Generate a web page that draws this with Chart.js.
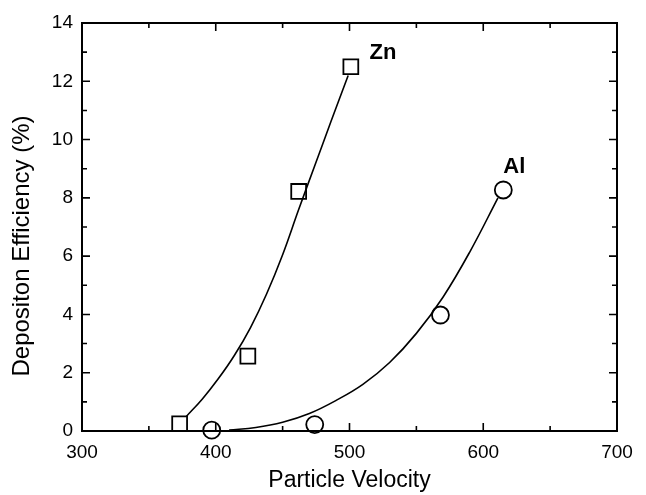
<!DOCTYPE html>
<html>
<head>
<meta charset="utf-8">
<script src="https://cdn.jsdelivr.net/npm/chart.js@4/dist/chart.umd.min.js"></script>
<style>
  html, body { margin: 0; padding: 0; background: #fff; }
  #wrap { width: 646px; height: 495px; }
</style>
</head>
<body>
<div id="wrap"><canvas id="chart" width="646" height="495"></canvas></div>
<script>
// measured points
const znVelocity = [373, 424, 462, 501];
const znEfficiency = [0.25, 2.57, 8.22, 12.5];
const alVelocity = [397, 474, 568, 615];
const alEfficiency = [0.03, 0.22, 3.98, 8.27];

// fitted curves
const znFitX = [378, 390, 402, 414, 426, 438, 450, 462, 474, 486, 499];
const znFitY = [0.5, 1.1, 1.8, 2.6, 3.55, 4.7, 6.05, 7.6, 9.1, 10.6, 12.2];
const alFitX = [410, 430, 450, 470, 490, 510, 530, 550, 570, 590, 611];
const alFitY = [0.03, 0.12, 0.3, 0.6, 1.05, 1.6, 2.35, 3.35, 4.6, 6.15, 8.0];

const xTicks = [300, 400, 500, 600, 700];
const yTicks = [0, 2, 4, 6, 8, 10, 12, 14];
const seriesLabels = ['Zn', 'Al'];
const labelPos = [[515, 12.97], [615, 9.06]];
const yTitle = 'Depositon Efficiency (%)';

const FONT = '"Liberation Sans", Arial, Helvetica, sans-serif';

function pts(xs, ys) {
  return xs.map((x, i) => ({ x: x, y: ys[i] }));
}

// inward ticks on all four sides, frame, y title and the series labels
const framePlugin = {
  id: 'frame',
  afterDraw(chart) {
    const c = chart.ctx;
    const a = chart.chartArea;
    const xs = chart.scales.x, ys = chart.scales.y;
    c.save();
    c.strokeStyle = '#000';
    c.lineWidth = 2;
    c.strokeRect(a.left, a.top, a.right - a.left, a.bottom - a.top);
    c.lineWidth = 1.6;
    c.beginPath();
    for (let v = 300; v <= 700; v += 50) {
      const px = xs.getPixelForValue(v);
      const len = v % 100 === 0 ? 8 : 5;
      c.moveTo(px, a.bottom); c.lineTo(px, a.bottom - len);
      c.moveTo(px, a.top); c.lineTo(px, a.top + len);
    }
    for (let v = 0; v <= 14; v += 1) {
      const py = ys.getPixelForValue(v);
      const len = v % 2 === 0 ? 8 : 5;
      c.moveTo(a.left, py); c.lineTo(a.left + len, py);
      c.moveTo(a.right, py); c.lineTo(a.right - len, py);
    }
    c.stroke();

    c.fillStyle = '#000';
    c.font = 'bold 22px ' + FONT;
    c.textBaseline = 'middle';
    c.textAlign = 'left';
    seriesLabels.forEach((t, i) => {
      c.fillText(t, xs.getPixelForValue(labelPos[i][0]), ys.getPixelForValue(labelPos[i][1]));
    });

    // y title sits a bit below the middle of the plot
    c.translate(22, 246);
    c.rotate(-Math.PI / 2);
    c.textAlign = 'center';
    c.font = '24px ' + FONT;
    c.fillText(yTitle, 0, 0);
    c.restore();
  }
};

const ctx = document.getElementById('chart').getContext('2d');
const chart = new Chart(ctx, {
  type: 'scatter',
  data: {
    datasets: [
      {
        label: 'Zn fit',
        data: pts(znFitX, znFitY),
        showLine: true,
        borderColor: '#000',
        borderWidth: 1.6,
        pointRadius: 0,
        tension: 0.4
      },
      {
        label: 'Al fit',
        data: pts(alFitX, alFitY),
        showLine: true,
        borderColor: '#000',
        borderWidth: 1.6,
        pointRadius: 0,
        tension: 0.4
      },
      {
        label: 'Zn',
        data: pts(znVelocity, znEfficiency),
        pointStyle: 'rect',
        pointRadius: 10.5,
        borderColor: '#000',
        borderWidth: 1.8,
        backgroundColor: '#fff'
      },
      {
        label: 'Al',
        data: pts(alVelocity, alEfficiency),
        pointStyle: 'circle',
        pointRadius: 8.5,
        borderColor: '#000',
        borderWidth: 1.8,
        backgroundColor: '#fff'
      }
    ]
  },
  options: {
    responsive: false,
    animation: false,
    clip: false,
    layout: { padding: { left: 0, top: 23, right: 29, bottom: 0 } },
    plugins: {
      legend: { display: false },
      tooltip: { enabled: false }
    },
    scales: {
      x: {
        type: 'linear',
        min: 300,
        max: 700,
        afterBuildTicks(s) { s.ticks = xTicks.map(v => ({ value: v })); },
        afterFit(s) { s.height = 64; },
        grid: { display: false, drawTicks: false },
        border: { display: false },
        ticks: { color: '#000', padding: 10, maxRotation: 0, font: { family: FONT, size: 19 } },
        title: {
          display: true,
          text: 'Particle Velocity',
          color: '#000',
          padding: { top: 0, bottom: 1 },
          font: { family: FONT, size: 23 }
        }
      },
      y: {
        type: 'linear',
        min: 0,
        max: 14,
        afterBuildTicks(s) { s.ticks = yTicks.map(v => ({ value: v })); },
        afterFit(s) { s.width = 82; },
        grid: { display: false, drawTicks: false },
        border: { display: false },
        ticks: { color: '#000', padding: 9, font: { family: FONT, size: 19 } },
        title: { display: false }
      }
    }
  },
  plugins: [framePlugin]
});
</script>
</body>
</html>
